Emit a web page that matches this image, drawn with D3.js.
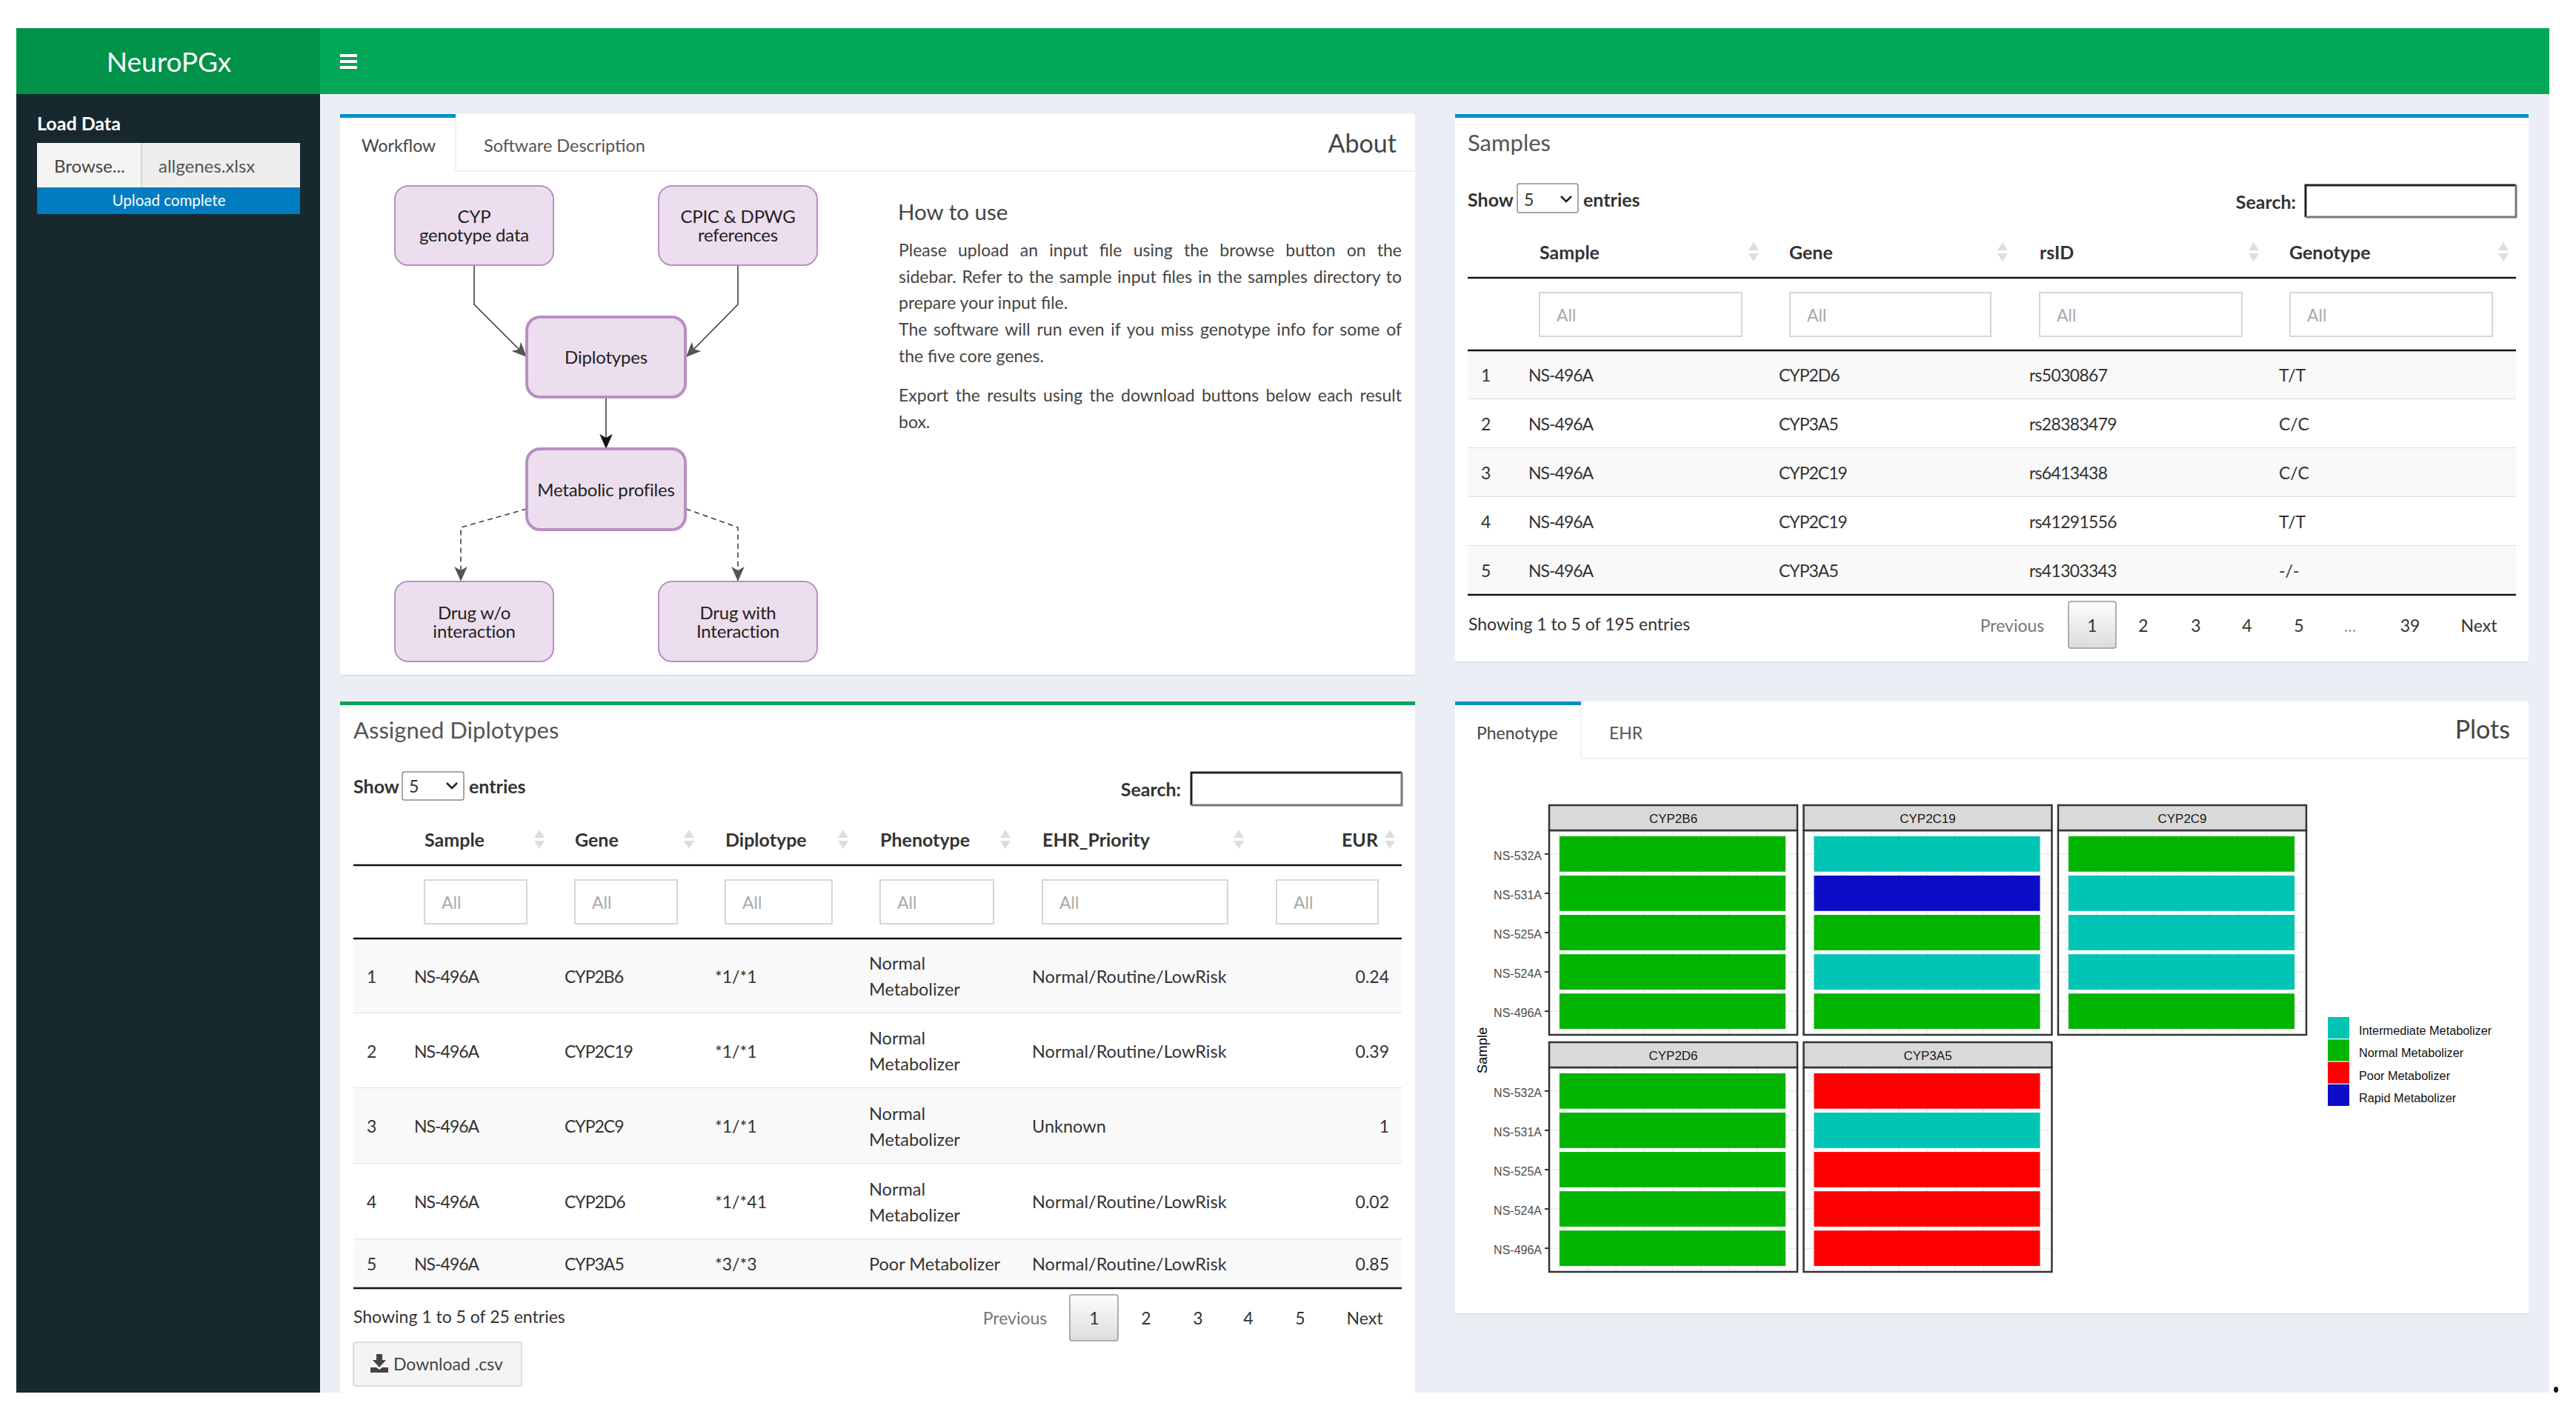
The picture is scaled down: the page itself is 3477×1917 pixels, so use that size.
<!DOCTYPE html>
<html>
<head>
    <title>NeuroPGx</title>
    <meta charset="utf-8">
    <script src="https://cdn.jsdelivr.net/npm/d3@7"></script>
    <style>
        html, body { margin: 0; padding: 0; background: #fff; }
        svg { display: block; }
        text { font-family: Lato, "Open Sans", sans-serif; fill: #333; }
        .gg text { font-family: "Liberation Sans", Arial, sans-serif; }
    </style>
</head>
<body>
<svg id="page" width="3477" height="1917"></svg>
<script>
// plot data
var plotSamples = ["NS-532A", "NS-531A", "NS-525A", "NS-524A", "NS-496A"];
var genes = ["CYP2B6", "CYP2C19", "CYP2C9", "CYP2D6", "CYP3A5"];
var phenotypeLevels = ["Intermediate Metabolizer", "Normal Metabolizer", "Poor Metabolizer", "Rapid Metabolizer"];
var phenotypeColors = ["#00c4b4", "#00b400", "#ff0000", "#0d0dc8"];
var callsCYP2B6 = ["Normal Metabolizer", "Normal Metabolizer", "Normal Metabolizer", "Normal Metabolizer", "Normal Metabolizer"];
var callsCYP2C19 = ["Intermediate Metabolizer", "Rapid Metabolizer", "Normal Metabolizer", "Intermediate Metabolizer", "Normal Metabolizer"];
var callsCYP2C9 = ["Normal Metabolizer", "Intermediate Metabolizer", "Intermediate Metabolizer", "Intermediate Metabolizer", "Normal Metabolizer"];
var callsCYP2D6 = ["Normal Metabolizer", "Normal Metabolizer", "Normal Metabolizer", "Normal Metabolizer", "Normal Metabolizer"];
var callsCYP3A5 = ["Poor Metabolizer", "Intermediate Metabolizer", "Poor Metabolizer", "Poor Metabolizer", "Poor Metabolizer"];
var geneCalls = [callsCYP2B6, callsCYP2C19, callsCYP2C9, callsCYP2D6, callsCYP3A5];

// samples table
var samplesHeaders = ["Sample", "Gene", "rsID", "Genotype"];
var samplesIds = ["NS-496A", "NS-496A", "NS-496A", "NS-496A", "NS-496A"];
var samplesGenes = ["CYP2D6", "CYP3A5", "CYP2C19", "CYP2C19", "CYP3A5"];
var samplesRs = ["rs5030867", "rs28383479", "rs6413438", "rs41291556", "rs41303343"];
var samplesGenotypes = ["T/T", "C/C", "C/C", "T/T", "-/-"];

// diplotypes table
var dipHeaders = ["Sample", "Gene", "Diplotype", "Phenotype", "EHR_Priority", "EUR"];
var dipIds = ["NS-496A", "NS-496A", "NS-496A", "NS-496A", "NS-496A"];
var dipGenes = ["CYP2B6", "CYP2C19", "CYP2C9", "CYP2D6", "CYP3A5"];
var dipDiplotypes = ["*1/*1", "*1/*1", "*1/*1", "*1/*41", "*3/*3"];
var dipPhenotypes = [["Normal", "Metabolizer"], ["Normal", "Metabolizer"], ["Normal", "Metabolizer"], ["Normal", "Metabolizer"], ["Poor Metabolizer"]];
var dipPriority = ["Normal/Routine/LowRisk", "Normal/Routine/LowRisk", "Unknown", "Normal/Routine/LowRisk", "Normal/Routine/LowRisk"];
var dipEur = ["0.24", "0.39", "1", "0.02", "0.85"];

var howToLines = [
    {t: "Please upload an input file using the browse button on the", just: true, y: 338},
    {t: "sidebar. Refer to the sample input files in the samples directory to", just: true, y: 374},
    {t: "prepare your input file.", just: false, y: 409},
    {t: "The software will run even if you miss genotype info for some of", just: true, y: 445},
    {t: "the five core genes.", just: false, y: 481},
    {t: "Export the results using the download buttons below each result", just: true, y: 534},
    {t: "box.", just: false, y: 570}
];

var svg = d3.select("#page");

function box(g, x, y, w, h, fill, stroke, sw, r) {
    return g.append("rect").attr("x", x).attr("y", y).attr("width", w).attr("height", h)
        .attr("fill", fill).attr("stroke", stroke || "none").attr("stroke-width", sw || 0).attr("rx", r || 0);
}

// y is the vertical centre of the text
function label(g, x, y, s, size, opt) {
    opt = opt || {};
    return g.append("text").attr("x", x).attr("y", y).attr("dy", "0.4em").text(s)
        .attr("font-size", size)
        .attr("font-weight", opt.weight || 400)
        .attr("text-anchor", opt.anchor || "start")
        .attr("letter-spacing", opt.ls || null)
        .style("fill", opt.color || "#333");
}

function hline(g, x1, x2, y, color, sw) {
    g.append("line").attr("x1", x1).attr("x2", x2).attr("y1", y).attr("y2", y).attr("stroke", color).attr("stroke-width", sw);
}

var defs = svg.append("defs");
var grad = defs.append("linearGradient").attr("id", "pageBtn").attr("x1", 0).attr("x2", 0).attr("y1", 0).attr("y2", 1);
grad.append("stop").attr("offset", "0%").attr("stop-color", "#fdfdfd");
grad.append("stop").attr("offset", "100%").attr("stop-color", "#dcdcdc");
[["arrowDark", "#111"], ["arrowGrey", "#555"]].forEach(function (m) {
    defs.append("marker").attr("id", m[0]).attr("markerUnits", "userSpaceOnUse")
        .attr("markerWidth", 20).attr("markerHeight", 20).attr("refX", 16).attr("refY", 7)
        .attr("orient", "auto").attr("viewBox", "0 0 16 14")
        .append("path").attr("d", "M0,0L16,7L0,14L4,7Z").attr("fill", m[1]);
});

// app frame
box(svg, 432, 127, 3009, 1753, "#ebeef5");
box(svg, 22, 127, 410, 1753, "#17292f");
box(svg, 22, 38, 410, 89, "#019249");
box(svg, 432, 38, 3009, 89, "#00a756");
label(svg, 228, 82, "NeuroPGx", 37, {anchor: "middle", color: "#fff"});
[73, 81, 89].forEach(function (y) { box(svg, 459, y, 23, 4, "#fff"); });

// sidebar
label(svg, 50, 166, "Load Data", 25, {weight: 700, color: "#fff"});
box(svg, 50, 193, 141, 60, "#f4f4f4");
box(svg, 191, 193, 214, 60, "#eeeeee");
box(svg, 190, 193, 2, 60, "#d2d6de");
label(svg, 73, 223, "Browse...", 24, {color: "#444"});
label(svg, 214, 223, "allgenes.xlsx", 24, {color: "#555"});
box(svg, 50, 253, 355, 36, "#007cc0");
label(svg, 228, 270, "Upload complete", 20.5, {anchor: "middle", color: "#fff"});

function panel(x, y, w, h, topColor, topWidth) {
    var g = svg.append("g");
    box(g, x, y, w, h + 2, "#dde0e8", null, 0, 3);
    box(g, x, y, w, h, "#fff", null, 0, 3);
    box(g, x, y, topWidth || w, 5, topColor);
    return g;
}

// About panel
var about = panel(459, 154, 1451, 757, "#0090c6", 156);
hline(about, 615, 1910, 231, "#f2f2f2", 2);
about.append("line").attr("x1", 615).attr("x2", 615).attr("y1", 159).attr("y2", 231).attr("stroke", "#f2f2f2").attr("stroke-width", 2);
label(about, 488, 196, "Workflow", 23, {color: "#444"});
label(about, 653, 196, "Software Description", 23.5, {color: "#555"});
label(about, 1885, 192, "About", 34, {anchor: "end", color: "#444"});

var nodes = [
    {x: 533, y: 251, h: 107, sw: 2, lines: ["CYP", "genotype data"]},
    {x: 889, y: 251, h: 107, sw: 2, lines: ["CPIC & DPWG", "references"]},
    {x: 711, y: 428, h: 108, sw: 4, lines: ["Diplotypes"]},
    {x: 711, y: 606, h: 109, sw: 4, lines: ["Metabolic profiles"]},
    {x: 533, y: 785, h: 108, sw: 2, lines: ["Drug w/o", "interaction"]},
    {x: 889, y: 785, h: 108, sw: 2, lines: ["Drug with", "Interaction"]}
];
var edges = [
    {d: [[640, 358], [640, 411], [711, 482]], marker: "arrowGrey", dash: null},
    {d: [[996, 358], [996, 411], [926, 482]], marker: "arrowGrey", dash: null},
    {d: [[818, 536], [818, 606]], marker: "arrowDark", dash: null},
    {d: [[711, 687], [622, 712], [622, 785]], marker: "arrowGrey", dash: "7,5"},
    {d: [[926, 687], [996, 712], [996, 785]], marker: "arrowGrey", dash: "7,5"}
];
var edgeLine = d3.line();
about.selectAll("path.edge").data(edges).enter().append("path").attr("class", "edge")
    .attr("d", function (e) { return edgeLine(e.d); })
    .attr("fill", "none").attr("stroke", "#333").attr("stroke-width", 1.5)
    .attr("stroke-dasharray", function (e) { return e.dash; })
    .attr("marker-end", function (e) { return "url(#" + e.marker + ")"; });
nodes.forEach(function (n) {
    box(about, n.x, n.y, 214, n.h, "#ecdeee", "#b890c0", n.sw, 18);
    var cy = n.y + n.h / 2 - 0.5;
    n.lines.forEach(function (s, i) {
        label(about, n.x + 107, cy + (i - (n.lines.length - 1) / 2) * 25, s, 24, {anchor: "middle", color: "#222", ls: -0.2});
    });
});

label(about, 1212, 285, "How to use", 29.5, {color: "#444"});
howToLines.forEach(function (l) {
    var t = label(about, 1213, l.y - 1, l.t, 23, {color: "#444"});
    if (l.just) {
        var gaps = l.t.split(" ").length - 1;
        t.attr("word-spacing", (679 - t.node().getComputedTextLength()) / gaps);
    }
});

function sortArrows(g, x, yc, h) {
    g.append("path").attr("fill", "#ddd")
        .attr("d", "M" + (x - 7) + "," + (yc - 2) + "L" + x + "," + (yc - 2 - h) + "L" + (x + 7) + "," + (yc - 2) + "Z"
            + "M" + (x - 7) + "," + (yc + 2) + "L" + x + "," + (yc + 2 + h) + "L" + (x + 7) + "," + (yc + 2) + "Z");
}

// native-looking inset border of the search input
function insetInput(g, x, y, w, h) {
    box(g, x, y, w, h, "#fff");
    g.append("path").attr("fill", "none").attr("stroke", "#222").attr("stroke-width", 3)
        .attr("d", "M" + x + "," + (y + h) + "V" + y + "H" + (x + w));
    g.append("path").attr("fill", "none").attr("stroke", "#777").attr("stroke-width", 3)
        .attr("d", "M" + x + "," + (y + h) + "H" + (x + w) + "V" + y);
}

function tableChrome(g, c) {
    label(g, c.left, c.showY, "Show", 25, {weight: 700});
    box(g, c.selX, c.selY, c.selW, c.selH, "#fff", "#8a8a8a", 1.5, 3);
    label(g, c.selX + 9, c.showY, "5", 23);
    g.append("path").attr("fill", "none").attr("stroke", "#222").attr("stroke-width", 2.5)
        .attr("d", "M" + (c.selX + c.selW - 23) + "," + (c.showY - 4) + "l7,7l7,-7");
    label(g, c.selX + c.selW + 7, c.showY, "entries", 25, {weight: 700});
    label(g, c.searchR, c.searchY, "Search:", 25, {weight: 700, anchor: "end"});
    insetInput(g, c.inX, c.inY, c.inW, c.inH);

    c.headers.forEach(function (h, i) {
        var isLast = c.lastRight && i === c.headers.length - 1;
        label(g, isLast ? c.lastRight : c.headX[i], c.headY, h, 25, {weight: 700, anchor: isLast ? "end" : "start"});
        sortArrows(g, c.arrowX[i], c.headY, 11);
        box(g, c.filterX[i], c.filterY, c.filterW[i], c.filterH, "#fff", "#d2d6de", 2);
        label(g, c.filterX[i] + 23, c.filterY + c.filterH / 2, "All", 23, {color: "#aaa"});
    });
    hline(g, c.left, c.right, c.headLine, "#111", 2.5);
    hline(g, c.left, c.right, c.bodyTop, "#111", 2.5);
}

function pagination(g, y, btn, items) {
    box(g, btn.x, btn.y, btn.w, btn.h, "url(#pageBtn)", "#979797", 1.5, 3);
    items.forEach(function (p) {
        label(g, p.x, y, p.s, 23, {anchor: "middle", color: p.c || "#333"});
    });
}

// Samples panel
var samplesBox = panel(1964, 154, 1449, 739, "#0090c6");
label(samplesBox, 1981, 192, "Samples", 31, {color: "#555"});
var sampleCfg = {
    left: 1981, right: 3396, showY: 269, selX: 2048, selY: 248, selW: 82, selH: 39,
    searchR: 3099, searchY: 272, inX: 3112, inY: 250, inW: 284, inH: 43,
    headers: samplesHeaders, headY: 340, headX: [2078, 2415, 2753, 3090], arrowX: [2367, 2703, 3042, 3379],
    filterX: [2078, 2416, 2753, 3091], filterW: [273, 271, 273, 273], filterY: 395, filterH: 59,
    headLine: 375, bodyTop: 473
};
var sampleRowY = d3.scaleBand().domain(d3.range(samplesIds.length)).range([473, 803]);
samplesIds.forEach(function (d, i) {
    box(samplesBox, 1981, sampleRowY(i), 1415, sampleRowY.bandwidth(), i % 2 === 0 ? "#f9f9f9" : "#fff");
    hline(samplesBox, 1981, 3396, sampleRowY(i) + sampleRowY.bandwidth(), "#dedede", 2);
    var cy = sampleRowY(i) + sampleRowY.bandwidth() / 2;
    label(samplesBox, 1999, cy, i + 1, 23);
    label(samplesBox, 2063, cy, samplesIds[i], 23, {ls: -1});
    label(samplesBox, 2401, cy, samplesGenes[i], 23, {ls: -1});
    label(samplesBox, 2739, cy, samplesRs[i], 23, {ls: -0.7});
    label(samplesBox, 3076, cy, samplesGenotypes[i], 23);
});
hline(samplesBox, 1981, 3396, 803, "#111", 2.5);
tableChrome(samplesBox, sampleCfg);
label(samplesBox, 1982, 842, "Showing 1 to 5 of 195 entries", 23);
pagination(samplesBox, 844, {x: 2792, y: 812, w: 64, h: 63}, [
    {x: 2716, s: "Previous", c: "#777"}, {x: 2824, s: "1"}, {x: 2893, s: "2"}, {x: 2964, s: "3"},
    {x: 3033, s: "4"}, {x: 3103, s: "5"}, {x: 3172, s: "...", c: "#999"}, {x: 3253, s: "39"}, {x: 3346, s: "Next"}
]);

// Assigned Diplotypes panel
var dipBox = panel(459, 947, 1451, 933, "#00a65a");
label(dipBox, 477, 985, "Assigned Diplotypes", 31, {color: "#555"});
var dipCfg = {
    left: 477, right: 1892, showY: 1061, selX: 543, selY: 1042, selW: 83, selH: 38,
    searchR: 1594, searchY: 1065, inX: 1608, inY: 1043, inW: 284, inH: 44,
    headers: dipHeaders, headY: 1133, headX: [573, 776, 979, 1188, 1407, 0], lastRight: 1860,
    arrowX: [728, 930, 1138, 1357, 1672, 1876],
    filterX: [573, 776, 979, 1188, 1407, 1723], filterW: [138, 138, 144, 153, 250, 137], filterY: 1188, filterH: 59,
    headLine: 1168, bodyTop: 1267
};
var dipRowEdges = [1267, 1368, 1469, 1571, 1673, 1739];
dipIds.forEach(function (d, i) {
    var y0 = dipRowEdges[i], y1 = dipRowEdges[i + 1], cy = (y0 + y1) / 2;
    box(dipBox, 477, y0, 1415, y1 - y0, i % 2 === 0 ? "#f9f9f9" : "#fff");
    hline(dipBox, 477, 1892, y1, "#dedede", 2);
    label(dipBox, 495, cy, i + 1, 23);
    label(dipBox, 559, cy, dipIds[i], 23, {ls: -1});
    label(dipBox, 762, cy, dipGenes[i], 23, {ls: -1});
    label(dipBox, 965, cy, dipDiplotypes[i], 23);
    dipPhenotypes[i].forEach(function (s, k, all) {
        label(dipBox, 1173, cy + (k - (all.length - 1) / 2) * 35, s, 23.5);
    });
    label(dipBox, 1393, cy, dipPriority[i], 23.5);
    label(dipBox, 1875, cy, dipEur[i], 23, {anchor: "end"});
});
hline(dipBox, 477, 1892, 1739, "#111", 2.5);
tableChrome(dipBox, dipCfg);
label(dipBox, 477, 1777, "Showing 1 to 5 of 25 entries", 23);
pagination(dipBox, 1779, {x: 1444, y: 1748, w: 65, h: 62}, [
    {x: 1370, s: "Previous", c: "#777"}, {x: 1477, s: "1"}, {x: 1547, s: "2"}, {x: 1617, s: "3"},
    {x: 1685, s: "4"}, {x: 1755, s: "5"}, {x: 1842, s: "Next"}
]);
box(dipBox, 477, 1812, 227, 59, "#f4f4f4", "#ddd", 2, 3);
dipBox.append("path").attr("fill", "#444")
    .attr("d", "M508,1828h8v8h5l-9,10l-9,-10h5zM500,1846h8l4,3l4,-3h8v7h-24z");
label(dipBox, 531, 1841, "Download .csv", 23, {color: "#444"});

// Plots panel
var plotBox = panel(1964, 947, 1449, 826, "#0090c6", 170);
hline(plotBox, 2134, 3413, 1024, "#f2f2f2", 2);
plotBox.append("line").attr("x1", 2134).attr("x2", 2134).attr("y1", 952).attr("y2", 1024).attr("stroke", "#f2f2f2").attr("stroke-width", 2);
label(plotBox, 1993, 989, "Phenotype", 23, {color: "#444"});
label(plotBox, 2172, 989, "EHR", 23, {color: "#555"});
label(plotBox, 3388, 983, "Plots", 34, {anchor: "end", color: "#444"});

var plot = svg.append("g").attr("class", "gg");
var color = d3.scaleOrdinal().domain(phenotypeLevels).range(phenotypeColors);
var panelW = 335, panelH = 276, stripH = 34;
var col = d3.scalePoint().domain([0, 1, 2]).range([2091, 2778]);
var rowTop = d3.scalePoint().domain([0, 1]).range([1121, 1441]);
var x = d3.scaleLinear().domain([0, 1]).range([14, 319]);
var y = d3.scaleBand().domain(plotSamples).range([0, panelH]).paddingInner(0.1).paddingOuter(0.15);
var gridTicks = d3.range(0, 1.01, 0.125);

genes.forEach(function (gene, i) {
    var r = Math.floor(i / 3), c = i % 3;
    var g = plot.append("g").attr("transform", "translate(" + col(c) + "," + rowTop(r) + ")");

    g.selectAll("line.gv").data(gridTicks).enter().append("line").attr("class", "gv")
        .attr("x1", function (d) { return x(d); }).attr("x2", function (d) { return x(d); })
        .attr("y1", 0).attr("y2", panelH).attr("stroke", "#ebebeb").attr("stroke-width", 1.5);
    g.selectAll("line.gh").data(plotSamples).enter().append("line").attr("class", "gh")
        .attr("x1", 0).attr("x2", panelW)
        .attr("y1", function (d) { return y(d) + y.bandwidth() / 2; })
        .attr("y2", function (d) { return y(d) + y.bandwidth() / 2; })
        .attr("stroke", "#ebebeb").attr("stroke-width", 1.5);

    g.selectAll("rect.bar").data(plotSamples).enter().append("rect").attr("class", "bar")
        .attr("x", x(0)).attr("width", x(1) - x(0))
        .attr("y", function (d) { return y(d); }).attr("height", y.bandwidth())
        .attr("fill", function (d, k) { return color(geneCalls[i][k]); });

    box(g, 0, 0, panelW, panelH, "none", "#333", 2.5);
    box(g, 0, -stripH, panelW, stripH, "#d9d9d9", "#333", 2.5);
    label(g, panelW / 2, -stripH / 2, gene, 17, {anchor: "middle", color: "#1a1a1a"});

    if (c === 0) {
        var yAxis = g.append("g").call(d3.axisLeft(y).tickSize(6).tickPadding(4));
        yAxis.select(".domain").remove();
        yAxis.selectAll("line").attr("stroke", "#333").attr("stroke-width", 2);
        yAxis.selectAll("text").attr("font-size", 16).attr("dy", "0.5em").style("fill", "#4d4d4d");
    }
});

plot.append("text").attr("transform", "translate(2001,1418) rotate(-90)").attr("dy", "0.35em")
    .attr("text-anchor", "middle").attr("font-size", 18.5).style("fill", "#000").text("Sample");

// legend
var legendY = d3.scaleBand().domain(phenotypeLevels).range([1373, 1493]).paddingInner(0.04);
phenotypeLevels.forEach(function (p) {
    plot.append("rect").attr("x", 3142).attr("width", 29).attr("y", legendY(p)).attr("height", legendY.bandwidth()).attr("fill", color(p));
    label(plot, 3184, legendY(p) + legendY.bandwidth() / 2 + 3, p, 16.3, {color: "#111"});
});

// page below the app is white, with a stray dot at the corner
box(svg, 22, 1880, 3419, 37, "#fff");
svg.append("ellipse").attr("cx", 3450).attr("cy", 1876).attr("rx", 3).attr("ry", 4).attr("fill", "#111");
</script>
</body>
</html>
